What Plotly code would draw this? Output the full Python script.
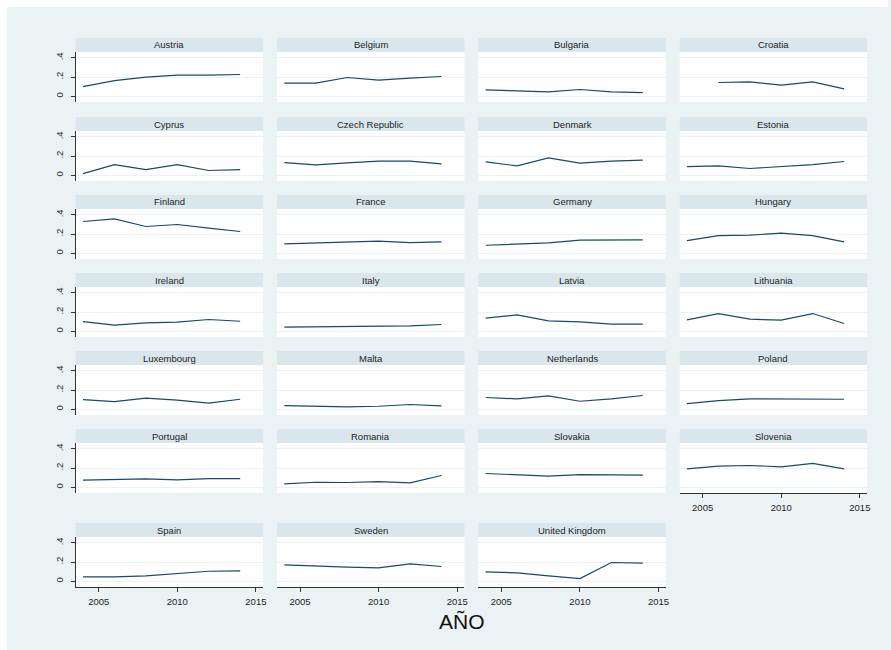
import plotly.graph_objects as go

W, H = 891, 650

years = [2004, 2006, 2008, 2010, 2012, 2014]
years_croatia = [2006, 2008, 2010, 2012, 2014]

countries = ["Austria", "Belgium", "Bulgaria", "Croatia",
             "Cyprus", "Czech Republic", "Denmark", "Estonia",
             "Finland", "France", "Germany", "Hungary",
             "Ireland", "Italy", "Latvia", "Lithuania",
             "Luxembourg", "Malta", "Netherlands", "Poland",
             "Portugal", "Romania", "Slovakia", "Slovenia",
             "Spain", "Sweden", "United Kingdom"]

austria = [0.100, 0.163, 0.198, 0.219, 0.219, 0.226]
belgium = [0.136, 0.136, 0.195, 0.167, 0.188, 0.205]
bulgaria = [0.066, 0.059, 0.045, 0.070, 0.045, 0.038]
croatia = [0.143, 0.150, 0.115, 0.150, 0.077]
cyprus = [0.017, 0.111, 0.059, 0.111, 0.049, 0.059]
czech = [0.132, 0.108, 0.129, 0.146, 0.146, 0.118]
denmark = [0.139, 0.097, 0.181, 0.125, 0.146, 0.157]
estonia = [0.090, 0.097, 0.070, 0.090, 0.111, 0.143]
finland = [0.330, 0.358, 0.278, 0.299, 0.261, 0.226]
france = [0.097, 0.108, 0.118, 0.125, 0.111, 0.118]
germany = [0.083, 0.094, 0.108, 0.136, 0.139, 0.139]
hungary = [0.132, 0.184, 0.188, 0.209, 0.184, 0.118]
ireland = [0.100, 0.063, 0.087, 0.094, 0.122, 0.104]
italy = [0.042, 0.045, 0.049, 0.049, 0.056, 0.070]
latvia = [0.136, 0.170, 0.108, 0.097, 0.073, 0.073]
lithuania = [0.118, 0.184, 0.125, 0.115, 0.184, 0.080]
luxembourg = [0.100, 0.080, 0.115, 0.094, 0.063, 0.104]
malta = [0.038, 0.031, 0.024, 0.031, 0.049, 0.035]
netherlands = [0.122, 0.108, 0.139, 0.083, 0.108, 0.143]
poland = [0.059, 0.090, 0.108, 0.108, 0.108, 0.104]
portugal = [0.073, 0.080, 0.087, 0.077, 0.090, 0.090]
romania = [0.035, 0.052, 0.049, 0.059, 0.045, 0.122]
slovakia = [0.143, 0.129, 0.115, 0.132, 0.125, 0.125]
slovenia = [0.191, 0.219, 0.226, 0.212, 0.247, 0.191]
spain = [0.045, 0.045, 0.056, 0.077, 0.104, 0.108]
sweden = [0.170, 0.157, 0.146, 0.139, 0.181, 0.153]
uk = [0.097, 0.087, 0.056, 0.028, 0.195, 0.188]

series = [austria, belgium, bulgaria, croatia,
          cyprus, czech, denmark, estonia,
          finland, france, germany, hungary,
          ireland, italy, latvia, lithuania,
          luxembourg, malta, netherlands, poland,
          portugal, romania, slovakia, slovenia,
          spain, sweden, uk]

x_ticks = [2005, 2010, 2015]
y_ticks = [0, 0.2, 0.4]
y_ticktext = ["0", ".2", ".4"]
x_title = "AÑO"

BG = "#eaf2f3"
STRIP = "#d9e6eb"
LINE = "#1a476f"
TXT = "#1e1e1e"


def px_x(v):
    return v / W


def px_y(v):
    return 1 - v / H


strip_tops = [38, 117, 195, 273, 351, 429, 523]
col_lefts = [76, 278, 480, 682]
PW = 188
STRIP_H = 14
PH = 50

fig = go.Figure()
shapes = []
annotations = []
n = len(countries)
for i, (name, vals) in enumerate(zip(countries, series)):
    r, c = divmod(i, 4)
    st = strip_tops[r]
    x0 = col_lefts[c]
    x1 = x0 + PW
    ptop = st + STRIP_H
    pbot = ptop + PH
    k = i + 1
    xa = "x" if k == 1 else f"x{k}"
    ya = "y" if k == 1 else f"y{k}"
    xs = years_croatia if name == "Croatia" else years
    fig.add_trace(go.Scatter(x=xs, y=vals, mode="lines",
                             line=dict(color=LINE, width=1.2),
                             xaxis=xa, yaxis=ya, showlegend=False,
                             hoverinfo="x+y"))
    bottom_of_col = (i + 4 >= n)
    left_col = (c == 0)
    xkey = "xaxis" if k == 1 else f"xaxis{k}"
    ykey = "yaxis" if k == 1 else f"yaxis{k}"
    fig.update_layout({
        xkey: dict(domain=[px_x(x0), px_x(x1)], anchor=ya,
                   range=[2003.54, 2015.46], showgrid=False, zeroline=False,
                   tickvals=x_ticks, ticktext=[str(t) for t in x_ticks],
                   showticklabels=bottom_of_col,
                   ticks="outside" if bottom_of_col else "",
                   ticklen=4, tickcolor="#333", tickwidth=1,
                   showline=bottom_of_col, linecolor="#333", linewidth=1.2,
                   ticklabelstandoff=1,
                   tickfont=dict(family="Liberation Sans, Arial", size=9.5, color=TXT),
                   fixedrange=True),
        ykey: dict(domain=[px_y(pbot), px_y(ptop)], anchor=xa,
                   range=[-0.06, 0.46], showgrid=True, gridcolor=BG, gridwidth=1.2,
                   zeroline=False, tickvals=y_ticks, ticktext=y_ticktext,
                   showticklabels=left_col,
                   ticks="outside" if left_col else "",
                   ticklen=4, tickcolor="#333", tickwidth=1,
                   tickangle=-90, ticklabelstandoff=4,
                   showline=left_col, linecolor="#333", linewidth=1.2,
                   tickfont=dict(family="Liberation Sans, Arial", size=9.5, color=TXT),
                   fixedrange=True),
    })
    shapes.append(dict(type="rect", xref="paper", yref="paper",
                       x0=px_x(x0), x1=px_x(x1), y0=px_y(ptop), y1=px_y(st),
                       fillcolor=STRIP, line=dict(width=0), layer="below"))
    annotations.append(dict(text=name, xref="paper", yref="paper",
                            x=px_x((x0 + x1) / 2), y=px_y(st + STRIP_H / 2),
                            xanchor="center", yanchor="middle", showarrow=False,
                            font=dict(family="Liberation Sans, Arial", size=9.5, color=TXT)))

# white outer margin (top and left)
shapes.append(dict(type="rect", xref="paper", yref="paper", x0=0, x1=1,
                   y0=px_y(7), y1=1, fillcolor="white", line=dict(width=0), layer="below"))
shapes.append(dict(type="rect", xref="paper", yref="paper", x0=0, x1=px_x(7),
                   y0=0, y1=1, fillcolor="white", line=dict(width=0), layer="below"))

annotations.append(dict(text=x_title, xref="paper", yref="paper",
                        x=px_x(464), y=px_y(621), xanchor="center", yanchor="middle",
                        showarrow=False,
                        font=dict(family="Liberation Sans, Arial", size=21, color="#111")))

fig.update_layout(width=W, height=H, margin=dict(l=0, r=0, t=0, b=0),
                  paper_bgcolor=BG, plot_bgcolor="white",
                  shapes=shapes, annotations=annotations, showlegend=False)

fig.write_html("out.html", config={"displayModeBar": False})
